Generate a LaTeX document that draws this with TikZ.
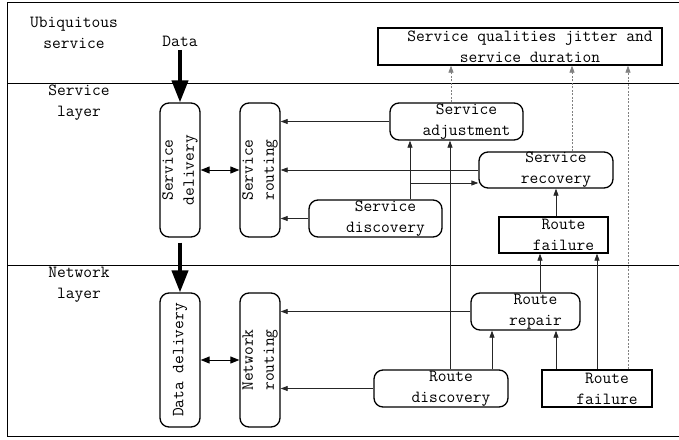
\documentclass[tikz,border=0pt]{standalone}
\usepackage{fontspec}
\usepackage{tikz}
\usetikzlibrary{arrows.meta}
\tikzset{
>={Triangle[length=7pt,width=5pt]}, % small filled arrow heads
every node/.style={font=\ttfamily\fontsize{17}{21}\selectfont, align=center},
rbox/.style={draw, line width=1.3pt, rounded corners=9pt, inner sep=0pt}, % rounded boxes
sbox/.style={draw, line width=1.3pt, inner sep=0pt}, % square boxes
vbox/.style={rbox, rotate=90, minimum width=134pt, minimum height=40pt}, % upright boxes
txt/.style={xshift=10pt}, % box texts sit a bit right of centre
link/.style={->, line width=0.8pt, black!85},
dlink/.style={->, line width=0.8pt, gray, dash pattern=on 2pt off 1.5pt},
dbl/.style={{Triangle[length=9pt,width=7pt]}-{Triangle[length=9pt,width=7pt]}, line width=0.9pt},
fat/.style={-{Triangle[length=22pt,width=16pt]}, line width=4pt},
}

\begin{document}
\begin{tikzpicture}[x=1pt, y=-1pt]
        \useasboundingbox (0,0) rectangle (679,439);
        % frame and layers
        \draw[line width=1pt] (679,2) -- (7,2) -- (7,436) -- (679,436);
        \draw[line width=0.8pt] (7,83) -- (679,83);
        \draw[line width=0.8pt] (7,265) -- (679,265);

        \node (ubi) at (74,33) {Ubiquitous\\service};
        \node (slayer) at (79,103) {Service\\layer};
        \node (nlayer) at (79,285) {Network\\layer};
        \node (data) at (180,41) {Data};

        \node[vbox] (sdeliv) at (180,170) {Service\\delivery};
        \node[vbox] (srout) at (260,170) {Service\\routing};
        \node[vbox] (ddeliv) at (180,360) {Data delivery};
        \node[vbox] (nrout) at (260,360) {Network\\routing};

        \node[sbox, minimum width=284pt, minimum height=37pt, label={[txt]center:Service qualities jitter and\\service duration}] (qual) at (520,46.5) {};
        \node[rbox, minimum width=133pt, minimum height=37pt, label={[txt]center:Service\\adjustment}] (adj) at (456.5,121.5) {};
        \node[rbox, minimum width=134pt, minimum height=36pt, label={[txt]center:Service\\recovery}] (rec) at (546,170) {};
        \node[sbox, minimum width=109pt, minimum height=36pt, label={[txt]center:Route\\failure}] (rfaila) at (553.5,235) {};
        \node[rbox, minimum width=133pt, minimum height=37pt, label={[txt]center:Service\\discovery}] (sdisc) at (375.5,218.5) {};
        \node[rbox, minimum width=109pt, minimum height=37pt, label={[txt]center:Route\\repair}] (rrep) at (525.5,311.5) {};
        \node[rbox, minimum width=134pt, minimum height=37pt, label={[txt]center:Route\\discovery}] (rdisc) at (441,388.5) {};
        \node[sbox, minimum width=110pt, minimum height=37pt, label={[txt]center:Route\\failure}] (rfailb) at (597,388.5) {};

        \draw[fat] (data.south) -- (sdeliv.east);
        \draw[fat, shorten <=5pt] (sdeliv.west) -- (ddeliv.east);
        \draw[dbl] (sdeliv.south) -- (srout.north);
        \draw[dbl] (ddeliv.south) -- (nrout.north);

        \draw[link] (adj.west) -- (adj.west -| srout.south);
        \draw[link] (rec.west) -- (rec.west -| srout.south);
        \draw[link] (sdisc.west) -- (sdisc.west -| srout.south);
        \draw[link] (sdisc.north -| 410,0) -- (adj.south -| 410,0);
        \coordinate (split) at (410,183);
        \draw[link] (split) -- (split -| rec.west);
        \draw[link] (rdisc.north -| 450,0) -- (adj.south -| 450,0);

        \draw[dlink] (adj.north -| 451,0) -- (qual.south -| 451,0);
        \draw[dlink] (rec.north -| 572,0) -- (qual.south -| 572,0);
        \draw[dlink] (rfailb.north -| 628,0) -- (qual.south -| 628,0);

        \draw[link] (rfaila.north -| 556,0) -- (rec.south -| 556,0);
        \draw[link] (rrep.north -| 540,0) -- (rfaila.south -| 540,0);
        \draw[link] (rfailb.north -| 597,0) -- (rfaila.south -| 597,0);
        \draw[link] (rdisc.north -| 492,0) -- (rrep.south -| 492,0);
        \draw[link] (rfailb.north -| 556,0) -- (rrep.south -| 556,0);
        \draw[link] (rrep.west) -- (rrep.west -| nrout.south);
        \draw[link] (rdisc.west) -- (rdisc.west -| nrout.south);
    \end{tikzpicture}
\end{document}
